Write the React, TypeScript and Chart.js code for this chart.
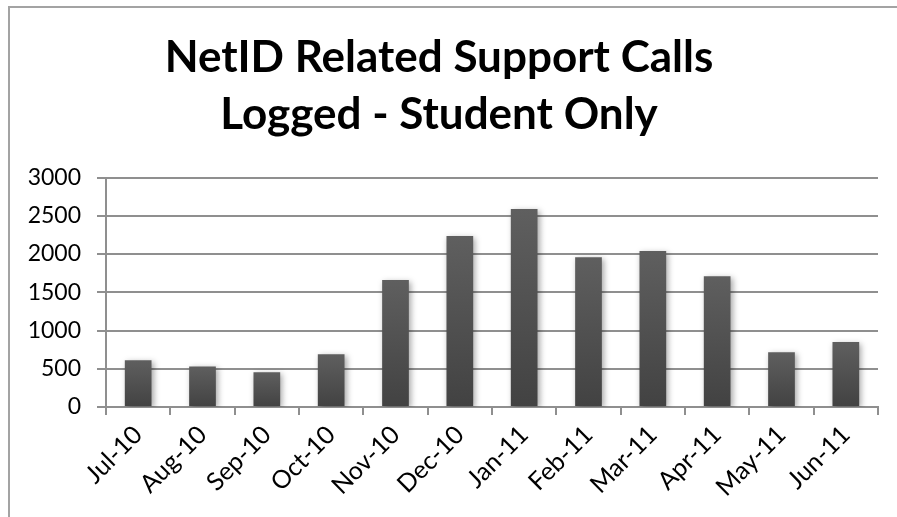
import React, { useEffect, useRef } from "react";
import { Chart, registerables } from "chart.js";

Chart.register(...registerables);

const months = [
  "Jul-10", "Aug-10", "Sep-10", "Oct-10", "Nov-10", "Dec-10",
  "Jan-11", "Feb-11", "Mar-11", "Apr-11", "May-11", "Jun-11",
];
const supportCalls = [610, 530, 455, 690, 1660, 2235, 2590, 1960, 2040, 1710, 715, 850];
const titleLines = ["NetID Related Support Calls", "Logged - Student Only"];
const yMin = 0;
const yMax = 3000;
const yStep = 500;

const W = 897;
const H = 517;

// Thin gray frame along the left and top edges of the chart panel
const framePlugin = {
  id: "frame",
  beforeDraw(chart: any) {
    const c = chart.ctx;
    c.save();
    c.fillStyle = "#ffffff";
    c.fillRect(0, 0, chart.width, chart.height);
    c.strokeStyle = "#a3a3a3";
    c.lineWidth = 2;
    c.beginPath();
    c.moveTo(9, chart.height);
    c.lineTo(9, 7);
    c.lineTo(chart.width, 7);
    c.stroke();
    c.restore();
  },
};

// Soft drop shadow under the bars
const barShadowPlugin = {
  id: "barShadow",
  beforeDatasetsDraw(chart: any) {
    const c = chart.ctx;
    c.save();
    c.shadowColor = "rgba(0,0,0,0.35)";
    c.shadowBlur = 6;
    c.shadowOffsetX = 2;
    c.shadowOffsetY = 2;
  },
  afterDatasetsDraw(chart: any) {
    chart.ctx.restore();
  },
};

export default function App() {
  const canvasRef = useRef<HTMLCanvasElement | null>(null);

  useEffect(() => {
    if (!canvasRef.current) return;
    const chart = new Chart(canvasRef.current, {
      type: "bar",
      data: {
        labels: months,
        datasets: [
          {
            label: "Calls",
            data: supportCalls,
            backgroundColor: (ctx: any) => {
              const ch = ctx.chart;
              const y = ch.scales?.y;
              if (!ch.chartArea || !y || ctx.raw == null) return "#555555";
              const top = y.getPixelForValue(ctx.raw);
              const bottom = y.getPixelForValue(0);
              const g = ch.ctx.createLinearGradient(0, top, 0, bottom);
              g.addColorStop(0, "#5f5f5f");
              g.addColorStop(1, "#424242");
              return g;
            },
            borderWidth: 0,
            barPercentage: 0.415,
            categoryPercentage: 1,
          },
        ],
      },
      options: {
        responsive: false,
        animation: false,
        devicePixelRatio: 1,
        layout: { padding: { left: 0, right: 19, top: 0, bottom: 0 } },
        plugins: {
          legend: { display: false },
          tooltip: { enabled: false },
          title: {
            display: true,
            text: titleLines,
            color: "#000000",
            font: { family: "Lato", size: 44, weight: "bold", lineHeight: 57.3 / 44 },
            padding: { top: 29, bottom: 34 },
          },
        },
        scales: {
          x: {
            afterFit(scale: any) {
              scale.height = 110;
            },
            grid: {
              display: true,
              offset: true,
              drawOnChartArea: false,
              drawTicks: true,
              tickLength: 8,
              color: "#8f8f8f",
              lineWidth: 2,
            },
            border: { display: true, color: "#8f8f8f", width: 2 },
            ticks: {
              color: "#000000",
              font: { family: "Lato", size: 25 },
              minRotation: 45,
              maxRotation: 45,
              padding: 5,
              autoSkip: false,
            },
          },
          y: {
            min: yMin,
            max: yMax,
            afterFit(scale: any) {
              scale.width = 106;
            },
            grid: {
              color: "#8f8f8f",
              lineWidth: 2,
              tickLength: 9,
            },
            border: { display: true, color: "#8f8f8f", width: 2 },
            ticks: {
              stepSize: yStep,
              color: "#000000",
              font: { family: "Lato", size: 23 },
              padding: 16,
              callback: (v: any) => String(v),
            },
          },
        },
      },
      plugins: [framePlugin, barShadowPlugin],
    });
    return () => chart.destroy();
  }, []);

  return (
    <div
      style={{
        position: "fixed",
        left: 0,
        top: 0,
        width: W,
        height: H,
        overflow: "hidden",
        background: "#ffffff",
      }}
    >
      <canvas ref={canvasRef} width={W} height={H} style={{ display: "block" }} />
    </div>
  );
}
